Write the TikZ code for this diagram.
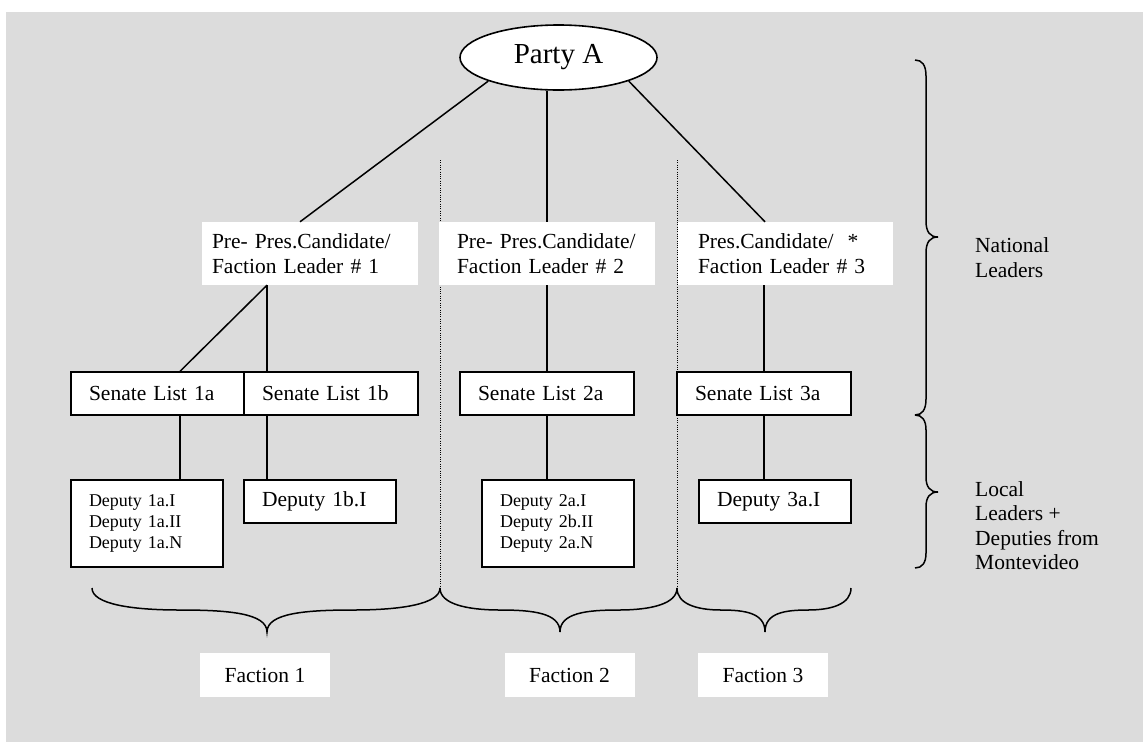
\documentclass[tikz,border=0pt]{standalone}
\usepackage{fontspec}
\setmainfont{Liberation Serif}
\usetikzlibrary{shapes.geometric,calc}
\definecolor{bggrey}{RGB}{220,220,220}
\begin{document}
\begin{tikzpicture}[x=1pt,y=-1pt,
  conn/.style={line width=1.5pt},
  sepline/.style={line width=1pt, dash pattern=on 1pt off 1.3pt},
  bracepath/.style={line width=1.5pt},
  partynode/.style={ellipse, draw, fill=white, line width=1.6pt, minimum width=197pt, minimum height=65pt, inner sep=0pt, font=\fontsize{29}{32}\selectfont},
  leadbox/.style={fill=white, inner ysep=0pt, align=left, minimum height=63pt, font=\fontsize{21.5}{25}\selectfont},
  sbox/.style={draw, fill=white, line width=1.4pt, inner ysep=0pt, inner xsep=18pt, align=left, minimum height=43pt, font=\fontsize{21.5}{25}\selectfont},
  dbox/.style={draw, fill=white, line width=1.4pt, inner ysep=0pt, inner xsep=18pt, align=left, minimum height=87pt, font=\fontsize{18}{21}\selectfont},
  facbox/.style={fill=white, minimum width=130pt, minimum height=44pt, inner sep=0pt, font=\fontsize{21.5}{25}\selectfont},
  sidetext/.style={anchor=west, align=left, inner sep=0pt, font=\fontsize{21.5}{24.5}\selectfont}]
\useasboundingbox (0,0) rectangle (1145,745);
\fill[bggrey] (6,12) rectangle (1143,742);

% separators
\coordinate (sepAtop) at (440,160);
\coordinate (sepAbot) at (440,588);
\coordinate (sepBtop) at (677,160);
\coordinate (sepBbot) at (677,588);
\draw[sepline] (sepAtop) -- (sepAbot);
\draw[sepline] (sepBtop) -- (sepBbot);

% nodes
\node[partynode] (party) at (558.5,57.5) {Party A};

\node[leadbox, text width=196pt, inner xsep=10pt] (lead1) at (310,253.5)
  {\mbox{Pre- Pres.Candidate/}\\\mbox{Faction Leader \# 1}};
\node[leadbox, text width=180pt, inner xsep=18pt] (lead2) at (547,253.5)
  {\mbox{Pre- Pres.Candidate/}\\\mbox{Faction Leader \# 2}};
\node[leadbox, text width=175pt, inner xsep=20pt] (lead3) at (785.5,253.5)
  {\mbox{Pres.Candidate/\hspace{14pt}*}\\\mbox{Faction Leader \# 3}};

\node[sbox, text width=137pt] (s1a) at (157.5,393.5) {Senate List 1a};
\node[sbox, text width=138pt] (s1b) at (331,393.5) {Senate List 1b};
\node[sbox, text width=138pt] (s2a) at (547,393.5) {Senate List 2a};
\node[sbox, text width=138pt] (s3a) at (764,393.5) {Senate List 3a};

\node[dbox, text width=116pt] (d1a) at (147,523.5) {Deputy 1a.I\\Deputy 1a.II\\Deputy 1a.N};
\node[sbox, text width=116pt] (d1b) at (320,501.5) {Deputy 1b.I};
\node[dbox, text width=116pt] (d2a) at (558,523.5) {Deputy 2a.I\\Deputy 2b.II\\Deputy 2a.N};
\node[sbox, text width=116pt] (d3a) at (775,501.5) {Deputy 3a.I};

\node[facbox] (f1) at (265,675) {Faction 1};
\node[facbox] (f2) at (569.5,675) {Faction 2};
\node[facbox] (f3) at (763,675) {Faction 3};

\node[sidetext] (natl) at (975,257.5) {National\\Leaders};
\node[sidetext] (local) at (975,525.5) {Local\\Leaders +\\Deputies from\\Montevideo};

% connectors
\draw[conn] (party.south west) -- ([xshift=-10pt]lead1.north);
\draw[conn] ([xshift=-11.5pt]party.south) -- (lead2.north);
\draw[conn] (party.south east) -- ([xshift=-20.5pt]lead3.north);

\draw[conn] ([xshift=-43pt]lead1.south) -- ([xshift=22.5pt]s1a.north);
\draw[conn] ([xshift=-43pt]lead1.south) -- ([xshift=-64pt]s1b.north);
\draw[conn] ([xshift=22.5pt]s1a.south) -- ([xshift=33pt]d1a.north);
\draw[conn] ([xshift=-64pt]s1b.south) -- ([xshift=-53pt]d1b.north);
\draw[conn] (lead2.south) -- (s2a.north);
\draw[conn] (s2a.south) -- ([xshift=-11pt]d2a.north);
\draw[conn] ([xshift=-21.5pt]lead3.south) -- (s3a.north);
\draw[conn] (s3a.south) -- ([xshift=-11pt]d3a.north);

% bottom braces
\foreach \a/\m/\b in {92/267/440, 440/560/677, 677/765/851} {
  \pgfmathsetmacro\qa{(\a+\m)/2}
  \pgfmathsetmacro\qb{(\m+\b)/2}
  \pgfmathsetmacro\ha{0.55*(\qa-\a)}
  \pgfmathsetmacro\hb{0.55*(\b-\qb)}
  \draw[bracepath] (\a,588) .. controls (\a,604) and ({\qa-\ha},610) .. (\qa,610)
    .. controls ({\qa+\ha},610) and (\m,613) .. (\m,632)
    .. controls (\m,613) and ({\qb-\hb},610) .. (\qb,610)
    .. controls ({\qb+\hb},610) and (\b,604) .. (\b,588);
}

% right braces
\draw[bracepath] (915,60) .. controls (922,60) and (926,65) .. (926,76)
  -- (926,221) .. controls (926,232) and (930,237) .. (938,237)
  .. controls (930,237) and (926,242) .. (926,253)
  -- (926,399) .. controls (926,410) and (922,415) .. (915,415);
\draw[bracepath] (915,415) .. controls (922,415) and (926,420) .. (926,430)
  -- (926,477) .. controls (926,487) and (930,492) .. (938,492)
  .. controls (930,492) and (926,497) .. (926,507)
  -- (926,553) .. controls (926,563) and (922,568) .. (915,568);
\end{tikzpicture}
\end{document}
